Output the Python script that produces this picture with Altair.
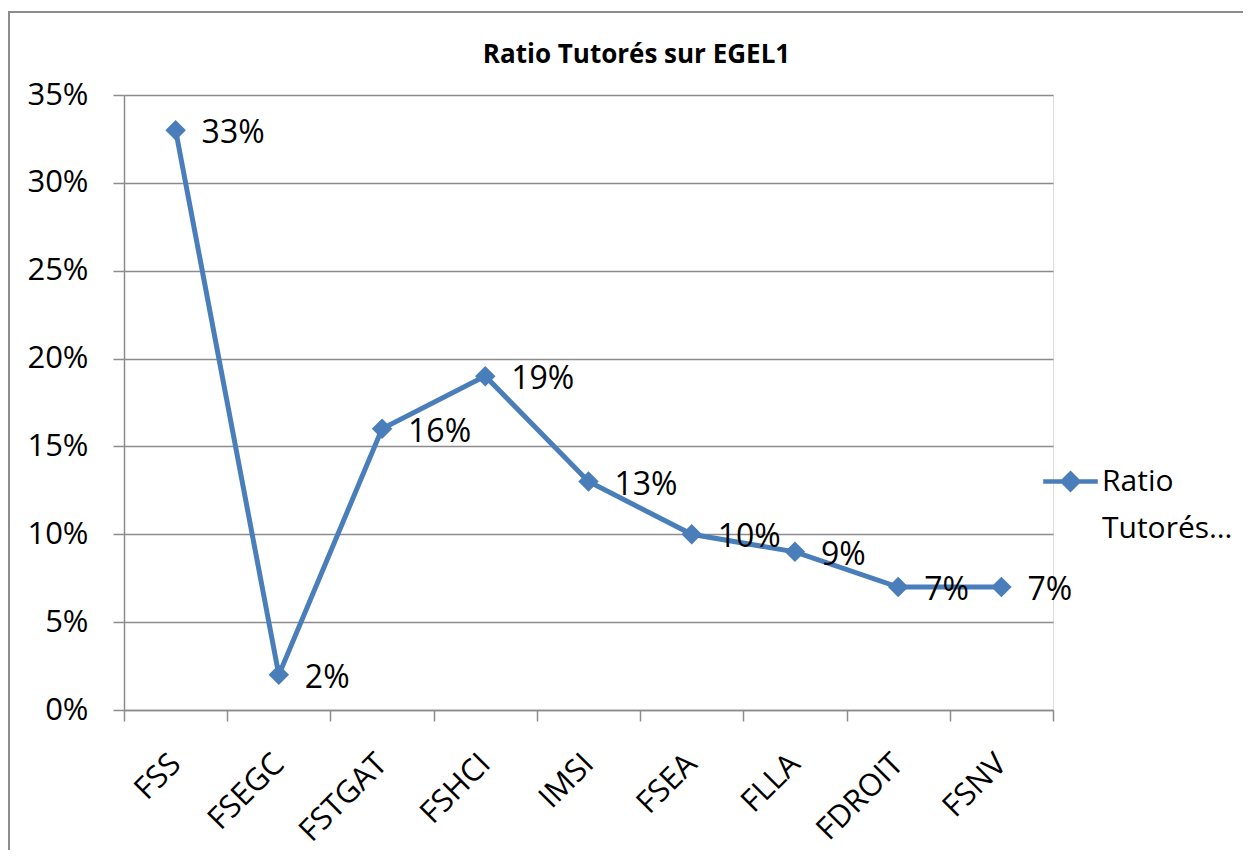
import altair as alt
import pandas as pd

categories = ["FSS", "FSEGC", "FSTGAT", "FSHCI", "IMSI", "FSEA", "FLLA", "FDROIT", "FSNV"]
values = [0.33, 0.02, 0.16, 0.19, 0.13, 0.10, 0.09, 0.07, 0.07]
labels = ["33%", "2%", "16%", "19%", "13%", "10%", "9%", "7%", "7%"]
series_name = "Ratio Tutorés sur EGEL1"
y_ticks = [0, 0.05, 0.10, 0.15, 0.20, 0.25, 0.30, 0.35]

df = pd.DataFrame({"cat": categories, "val": values, "lab": labels, "series": series_name})

FONT = "Open Sans"
BLUE = "#4A7EBB"
GRID = "#8C8C8C"

x = alt.X("cat:N", sort=categories, title=None,
          scale=alt.Scale(type="band", paddingInner=0, paddingOuter=0),
          axis=alt.Axis(labelAngle=-45, labelAlign="right", labelBaseline="middle",
                        labelFont=FONT, labelFontSize=31, labelColor="#000000",
                        labelPadding=38, tickBand="extent", tickSize=11,
                        tickColor=GRID, domainColor=GRID, domainWidth=1.5, tickWidth=1.5,
                        grid=False))
y = alt.Y("val:Q", title=None,
          scale=alt.Scale(domain=[0, 0.35], nice=False),
          axis=alt.Axis(values=y_ticks, format=".0%", labelFont=FONT, labelFontSize=31,
                        labelColor="#000000", labelPadding=25, tickSize=11,
                        tickColor=GRID, domainColor=GRID, domainWidth=1.5, tickWidth=1.5,
                        grid=True, gridColor=GRID, gridWidth=1.5))

line = alt.Chart(df).mark_line(
    strokeWidth=5,
    point=alt.OverlayMarkDef(shape="diamond", size=420, filled=True, color=BLUE, opacity=1),
).encode(
    x=x, y=y,
    color=alt.Color("series:N", scale=alt.Scale(range=[BLUE]),
                    legend=alt.Legend(title=None, orient="none", legendX=931, legendY=371,
                                      symbolType="M-2.1,0H2.1M0,-0.6L0.6,0L0,0.6L-0.6,0Z",
                                      symbolSize=676, symbolStrokeWidth=4.5,
                                      symbolFillColor=BLUE, symbolStrokeColor=BLUE,
                                      labelFont=FONT, labelFontSize=30, labelColor="#000000",
                                      labelExpr="['Ratio', 'Tutorés…']", labelOffset=16,
                                      labelLimit=300, padding=0)),
)

text = alt.Chart(df).mark_text(
    align="left", baseline="middle", dx=26, dy=3, font=FONT, fontSize=32, color="#000000"
).encode(x=alt.X("cat:N", sort=categories), y="val:Q", text="lab:N")

frame = alt.Chart(df).mark_rect(fill=None, stroke="#8C8C8C", strokeWidth=2).encode(
    x=alt.value(-115), x2=alt.value(1300), y=alt.value(-83), y2=alt.value(900)
)

chart = alt.layer(frame, line, text).properties(
    width=929, height=615,
    title=alt.TitleParams("Ratio Tutorés sur EGEL1", font=FONT, fontSize=26, fontWeight="bold",
                          color="#000000", anchor="middle", dx=48, offset=0, dy=57),
    padding={"left": 116, "top": 87, "right": 190, "bottom": 140},
    autosize=alt.AutoSizeParams(type="none"),
).configure_view(stroke=None).configure(
    background="white", style={"guide-label": {"lineHeight": 47}}
)

chart.save("out.html", embed_options={"renderer": "svg", "actions": False})
